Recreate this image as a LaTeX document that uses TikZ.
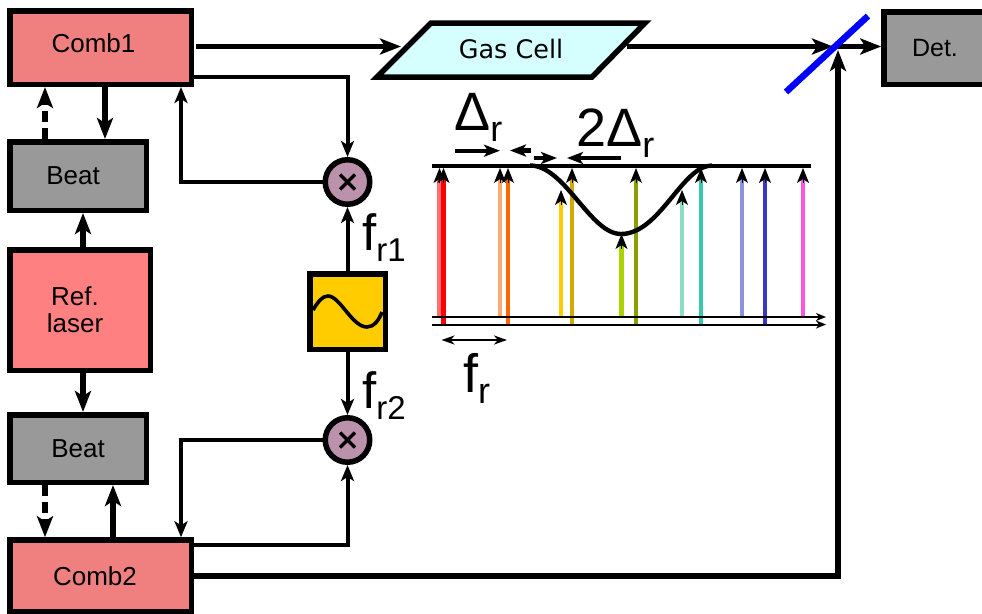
\documentclass[tikz,border=0pt]{standalone}
\usepackage{fontspec}
\setmainfont{Liberation Sans}
\newfontfamily\gasfont{DejaVu Sans}
\usetikzlibrary{arrows.meta}
\definecolor{combred}{HTML}{F08080}
\definecolor{reflaser}{HTML}{FF8080}
\definecolor{beatgray}{HTML}{999999}
\definecolor{gascyan}{HTML}{D5FFFF}
\definecolor{mixfill}{HTML}{BB91AB}
\definecolor{oscfill}{HTML}{FFCC00}
\tikzset{
  x=1pt,y=-1pt,
  block/.style={draw=black,line width=5.5pt,inner sep=0pt,font=\fontsize{26}{27}\selectfont,align=center},
  mixer/.style={circle,draw=black,line width=5.5pt,fill=mixfill,minimum size=44.5pt,inner sep=0pt},
  bigtip/.style={-{Stealth[length=21pt,width=16pt,inset=5pt]}},
  midtip/.style={-{Stealth[length=16pt,width=13pt,inset=4pt]}},
  combtip/.style={-{Stealth[length=15pt,width=12pt,inset=4pt]}},
  thick link/.style={line width=5.5pt,bigtip},
  mid link/.style={line width=4pt,midtip},
  dash link/.style={line width=5.5pt,dash pattern=on 11pt off 6pt,bigtip},
  axis link/.style={line width=2pt,-{Stealth[length=10pt,width=8pt,inset=3pt]}},
  marker/.style={line width=4.4pt,-{Stealth[length=16pt,width=12pt,inset=4pt]}},
  bigtext/.style={font=\fontsize{51}{54}\selectfont,inner sep=0pt},
  hugetext/.style={font=\fontsize{54}{56}\selectfont,inner sep=0pt},
}
\newcommand{\sbt}[1]{\raisebox{-11pt}{\fontsize{33}{36}\selectfont #1}}
\newcommand{\sbr}[1]{\raisebox{-11pt}{\fontsize{36}{38}\selectfont #1}}
\newcommand{\shft}[3]{\makebox[0pt]{\hspace*{#1}\raisebox{#2}{#3}}}
\begin{document}
\begin{tikzpicture}
\useasboundingbox (0,0) rectangle (982,613);
% blocks
\node[block,fill=combred,minimum width=181.5pt,minimum height=73.5pt] (comb1) at (100.5,47.5) {\shft{-14pt}{9pt}{Comb1}};
\node[block,fill=beatgray,minimum width=136.5pt,minimum height=68.5pt] (beat1) at (78,176) {\shft{-10pt}{0pt}{Beat}};
\node[block,fill=reflaser,minimum width=140.5pt,minimum height=120.5pt] (ref) at (80,310) {\shft{-10pt}{0pt}{Ref.}\\\shft{-10pt}{0pt}{laser}};
\node[block,fill=beatgray,minimum width=136.5pt,minimum height=67.5pt] (beat2) at (78,448.5) {Beat};
\node[block,fill=combred,minimum width=181.5pt,minimum height=72pt] (comb2) at (100.5,576) {\shft{-11pt}{0pt}{Comb2}};
\node[block,fill=beatgray,minimum width=110pt,minimum height=72.5pt,font=\fontsize{25}{30}\selectfont] (det) at (939,48) {\shft{-8pt}{0pt}{Det.}};
\node[mixer] (mix1) at (347.5,182) {};
\node[mixer] (mix2) at (347.5,440) {};
\draw[line width=3.4pt] (mix1.center)+(-7.5,-7.5) -- +(7.5,7.5) (mix1.center)+(-7.5,7.5) -- +(7.5,-7.5);
\draw[line width=3.4pt] (mix2.center)+(-7.5,-7.5) -- +(7.5,7.5) (mix2.center)+(-7.5,7.5) -- +(7.5,-7.5);
\node[block,fill=oscfill,minimum width=75.5pt,minimum height=75.5pt] (osc) at (347.5,311.5) {};
\draw[line width=3.6pt] (313,310) .. controls (318,302) and (322,296) .. (328,296) .. controls (340,296) and (352,327) .. (367,327) .. controls (374,327) and (379,320) .. (382,312);
% gas cell
\coordinate (g1) at (431,23); \coordinate (g2) at (645,23);
\coordinate (g3) at (592,77); \coordinate (g4) at (377,77);
\draw[line width=5.5pt,fill=gascyan,miter limit=10] (g1)--(g2)--(g3)--(g4)--cycle;
\node[font=\gasfont\fontsize{25.5}{30}\selectfont,inner sep=0pt] (gas) at (511,48.5) {Gas Cell};
\coordinate (gasin) at (401,46.5);
\coordinate (gasout) at (627,46.5);
\coordinate (bs) at (833,46.5);
\coordinate (bsout) at (836,46.5);
% connectors
\draw[thick link] (196,46.5) -- (gasin);
\draw[thick link] (gasout) -- (bs);
\draw[thick link] (bsout) -- (det.west |- bsout);
\draw[thick link] (comb2.east) -- (838,576) -- (838,50);
\draw[thick link] (comb1.south -| 105,0) -- (beat1.north -| 105,0);
\draw[dash link] (beat1.north -| 45,0) -- (comb1.south -| 45,0);
\draw[thick link] (ref.north -| 83,0) -- (beat1.south -| 83,0);
\draw[thick link] (ref.south -| 83,0) -- (beat2.north -| 83,0);
\draw[dash link] (beat2.south -| 45,0) -- (comb2.north -| 45,0);
\draw[thick link] (comb2.north -| 113,0) -- (beat2.south -| 113,0);
\draw[mid link] (comb1.east |- 0,77) -- (mix1.north |- 0,77) -- (mix1.north);
\draw[mid link] (mix1.west) -- (181,182) -- (comb1.south -| 181,0);
\draw[mid link] (mix2.west) -- (181,440) -- (comb2.north -| 181,0);
\draw[mid link] (comb2.east |- 0,545) -- (mix2.south |- 0,545) -- (mix2.south);
\draw[mid link] (osc.north) -- (mix1.south);
\draw[mid link] (osc.south) -- (mix2.north);
% beam splitter
\draw[blue,line width=6.5pt] (786,92) -- (868,16);
% spectrum comb lines (x, colour, foot, tip)
\foreach \x/\c/\foot/\tip in {
  439.5/FF6F6F/317/168,
  443.5/FF0000/324/168,
  500/FFA870/317/168,
  508/FF6600/324/168,
  561/FFCC00/317/190,
  572/D4AA00/324/168,
  621.5/AAD400/317/234,
  636/89A000/324/168,
  682/8CDCC8/317/190,
  701/37C8AB/324/168,
  742/9090E0/317/168,
  765/3737C8/324/168,
  803/FF55DD/317/168}{
  \definecolor{tmpc}{HTML}{\c}
  \draw[line width=4.2pt,color=tmpc] (\x,\foot) -- (\x,\tip+11);
  \draw[line width=1pt,combtip] (\x,\tip+15) -- (\x,\tip);
}
% spectrum axes and absorption
\draw[axis link] (432,317) -- (826,317);
\draw[axis link] (432,324.5) -- (826,324.5);
\draw[line width=4pt] (432,165.5) -- (811,165.5);
\draw[line width=4.4pt] (530,165.5) .. controls (565,165.5) and (590,234) .. (621,234)
  .. controls (660,234) and (682,165.5) .. (712,165.5);
% spacing markers
\draw[marker] (455,150.7) -- (500,150.7);
\draw[marker] (531,150.5) -- (510,150.5);
\draw[marker] (534,158) -- (557,158);
\draw[marker] (621,158) -- (567,158);
\draw[line width=2.6pt,{Stealth[length=13pt,width=9pt,inset=4pt]}-{Stealth[length=13pt,width=9pt,inset=4pt]}] (441.5,340) -- (507,340);
% labels
\node[hugetext,anchor=base west] (dr) at (454,130) {Δ\sbr{r}};
\node[hugetext,anchor=base west] (tdr) at (576,146) {2Δ\sbr{r}};
\node[hugetext,anchor=base west] (fr) at (463,392) {f\sbr{r}};
\node[bigtext,anchor=base west] (fr1) at (362,250) {f\sbt{r1}};
\node[bigtext,anchor=base west] (fr2) at (362,408) {f\sbt{r2}};
\end{tikzpicture}
\end{document}
